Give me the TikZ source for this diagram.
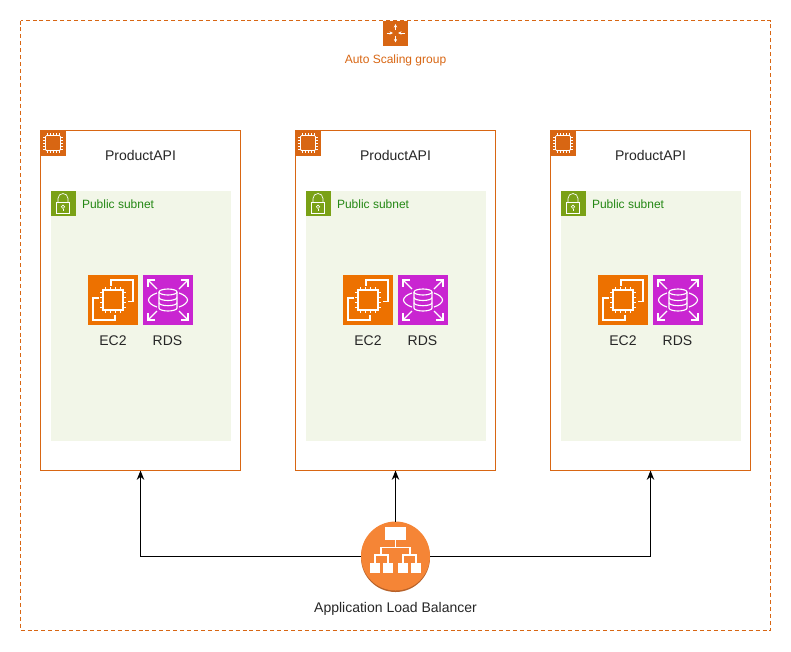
\documentclass[tikz,border=0pt]{standalone}
\usepackage{fontspec}
\setmainfont{Liberation Sans}
\usetikzlibrary{arrows.meta}
\definecolor{awsorange}{HTML}{D86613}
\definecolor{ectwoorange}{HTML}{ED7100}
\definecolor{rdspurple}{HTML}{C925D1}
\definecolor{subnetgreen}{HTML}{7AA116}
\definecolor{subnetbg}{HTML}{F2F6E8}
\definecolor{subnettext}{HTML}{248814}
\definecolor{albfill}{HTML}{F58536}
\definecolor{albshade}{HTML}{B7622A}
\tikzset{
  x=0.75pt,y=-0.75pt,
  every node/.style={inner sep=0pt,outer sep=0pt},
  groupframe/.style={draw=awsorange,dash pattern=on 3pt off 2.2pt,line width=0.6pt},
  instancebox/.style={draw=awsorange,line width=0.75pt,fill=white,minimum width=150pt,minimum height=255pt,anchor=north west},
  subnetbox/.style={fill=subnetbg,minimum width=135pt,minimum height=187.5pt,anchor=north west},
  tile/.style={minimum size=18.75pt,anchor=north west},
  bigtile/.style={minimum size=37.5pt,anchor=north west},
  lbl/.style={font=\fontsize{10.5pt}{12pt}\selectfont,text=black!85},
  smalllbl/.style={font=\fontsize{9pt}{11pt}\selectfont},
  iconline/.style={draw=white,line width=0.85pt,fill=none,line join=miter},
  thinline/.style={draw=white,line width=0.5pt,fill=none},
  link/.style={draw=black,line width=0.75pt,-{Stealth[length=7pt,width=5.6pt]}},
  pics/chipicon/.style={code={
    \draw[thinline,rounded corners=0.8pt,line width=0.6pt] (-7.5,-7.5) rectangle (7.5,7.5);
    \foreach \t in {-6,-3,0,3,6}{
      \draw[thinline] (\t,-7.5) -- (\t,-9.8);
      \draw[thinline] (\t,7.5) -- (\t,9.8);
      \draw[thinline] (-7.5,\t) -- (-9.8,\t);
      \draw[thinline] (7.5,\t) -- (9.8,\t);
    }
  }},
  pics/lockicon/.style={code={
    \draw[thinline] (-6.7,-0.5) rectangle (6.7,10);
    \draw[thinline] (-5,-0.5) -- (-5,-4.5) arc[start angle=180,end angle=360,radius=5] -- (5,-0.5);
    \draw[thinline] (0,3.8) circle[radius=1.7];
    \draw[thinline] (0,5.5) -- (0,7.5);
  }},
  pics/scaleicon/.style={code={
    \draw[thinline,-{Stealth[length=2.6pt,width=2.4pt]}] (0,-3) -- (0,-9);
    \draw[thinline,-{Stealth[length=2.6pt,width=2.4pt]}] (0,3) -- (0,9.5);
    \draw[thinline,-{Stealth[length=2.6pt,width=2.4pt]}] (-9,0) -- (-2.5,0);
    \draw[thinline,-{Stealth[length=2.6pt,width=2.4pt]}] (9,0) -- (2.5,0);
  }},
  pics/ectwoicon/.style={code={
    \draw[iconline] (-10,-10) rectangle (10,10);
    \foreach \t in {-7.5,-2.5,2.5,7.5}{
      \draw[iconline] (\t,-10) -- (\t,-13);
      \draw[iconline] (\t,10) -- (\t,13);
      \draw[iconline] (-10,\t) -- (-13,\t);
      \draw[iconline] (10,\t) -- (13,\t);
    }
    \draw[iconline] (-2,-14.5) -- (-2,-20) -- (20,-20) -- (20,1.5) -- (14.5,1.5);
    \draw[iconline] (-14.5,-2) -- (-20,-2) -- (-20,20) -- (2,20) -- (2,14.5);
  }},
  pics/rdsicon/.style={code={
    \draw[iconline] (0,-8) ellipse[x radius=9,y radius=3];
    \draw[iconline] (-9,-8) -- (-9,8) arc[start angle=180,end angle=0,x radius=9,y radius=3] -- (9,-8);
    \draw[iconline] (-9,-2.5) arc[start angle=180,end angle=0,x radius=9,y radius=3];
    \draw[iconline] (-9,2.7) arc[start angle=180,end angle=0,x radius=9,y radius=3];
    \draw[iconline] (-11,-7) .. controls (-16,-5.5) and (-19.5,-2.5) .. (-19.5,0) .. controls (-19.5,2.5) and (-16,5.5) .. (-11,7);
    \draw[iconline] (11,-7) .. controls (16,-5.5) and (19.5,-2.5) .. (19.5,0) .. controls (19.5,2.5) and (16,5.5) .. (11,7);
    \foreach \sx/\sy in {-1/-1,1/-1,-1/1,1/1}{
      \draw[iconline] (\sx*11,\sy*11) -- (\sx*20,\sy*20);
      \draw[iconline] (\sx*13,\sy*20) -- (\sx*20,\sy*20) -- (\sx*20,\sy*13);
    }
  }},
  pics/treeicon/.style={code={
    \fill[white] (-10.5,-29) rectangle (10.5,-16);
    \draw[iconline,line width=1pt] (0,-16) -- (0,-8.7);
    \draw[iconline,line width=1pt] (-14.5,-1) -- (-14.5,-8.7) -- (14.5,-8.7) -- (14.5,-1);
    \draw[iconline,line width=1pt] (-20.5,7.5) -- (-20.5,-1) -- (-7.5,-1) -- (-7.5,7.5);
    \draw[iconline,line width=1pt] (7.5,7.5) -- (7.5,-1) -- (20.5,-1) -- (20.5,7.5);
    \foreach \c in {-20.5,-7.5,7.5,20.5}{
      \fill[white] (\c-5.4,7.3) rectangle (\c+5.4,17.3);
    }
  }}
}
\newcommand{\instancegroup}[2]{%
  \node[instancebox] (box#1) at (#2,130.5) {};
  \node[tile,fill=awsorange] (chiptile#1) at (#2,130.5) {};
  \pic at (chiptile#1.center) {chipicon};
  \node[lbl] (title#1) at (#2+100,155) {ProductAPI};
  \node[subnetbox] (subnet#1) at (#2+10,190.5) {};
  \node[tile,fill=subnetgreen] (locktile#1) at (#2+10,190.5) {};
  \pic at (locktile#1.center) {lockicon};
  \node[smalllbl,text=subnettext,anchor=west] (subnetlabel#1) at (#2+41.5,204) {Public subnet};
  \node[bigtile,fill=ectwoorange] (ectwo#1) at (#2+47.5,275) {};
  \pic at (ectwo#1.center) {ectwoicon};
  \node[bigtile,fill=rdspurple] (rds#1) at (#2+102.5,275) {};
  \pic at (rds#1.center) {rdsicon};
  \node[lbl] (ectwolabel#1) at (#2+72.5,340.5) {EC2};
  \node[lbl] (rdslabel#1) at (#2+127,340.5) {RDS};
}
\begin{document}
\begin{tikzpicture}
\useasboundingbox (0,0) rectangle (791,651);
\draw[groupframe] (20.5,20.5) rectangle (770.5,630.5);
\node[tile,fill=awsorange] (scaletile) at (383,20.5) {};
\pic at (scaletile.center) {scaleicon};
\node[smalllbl,text=awsorange] (scalelabel) at (395.5,60.3) {Auto Scaling group};
\instancegroup{A}{40.5}
\instancegroup{B}{295.5}
\instancegroup{C}{550.5}
\fill[albshade] (395.5,557.5) circle[radius=34.5];
\node[circle,fill=albfill,minimum size=51.75pt] (alb) at (395.5,556) {};
\pic at (alb.center) {treeicon};
\node[lbl] (alblabel) at (395.5,609) {Application Load Balancer};
\coordinate (turnA) at (boxA.south |- alb.west);
\coordinate (turnC) at (boxC.south |- alb.east);
\draw[link] (alb.west) -- (turnA) -- (boxA.south);
\draw[link] (alb.north) -- (boxB.south);
\draw[link] (alb.east) -- (turnC) -- (boxC.south);
\end{tikzpicture}
\end{document}
